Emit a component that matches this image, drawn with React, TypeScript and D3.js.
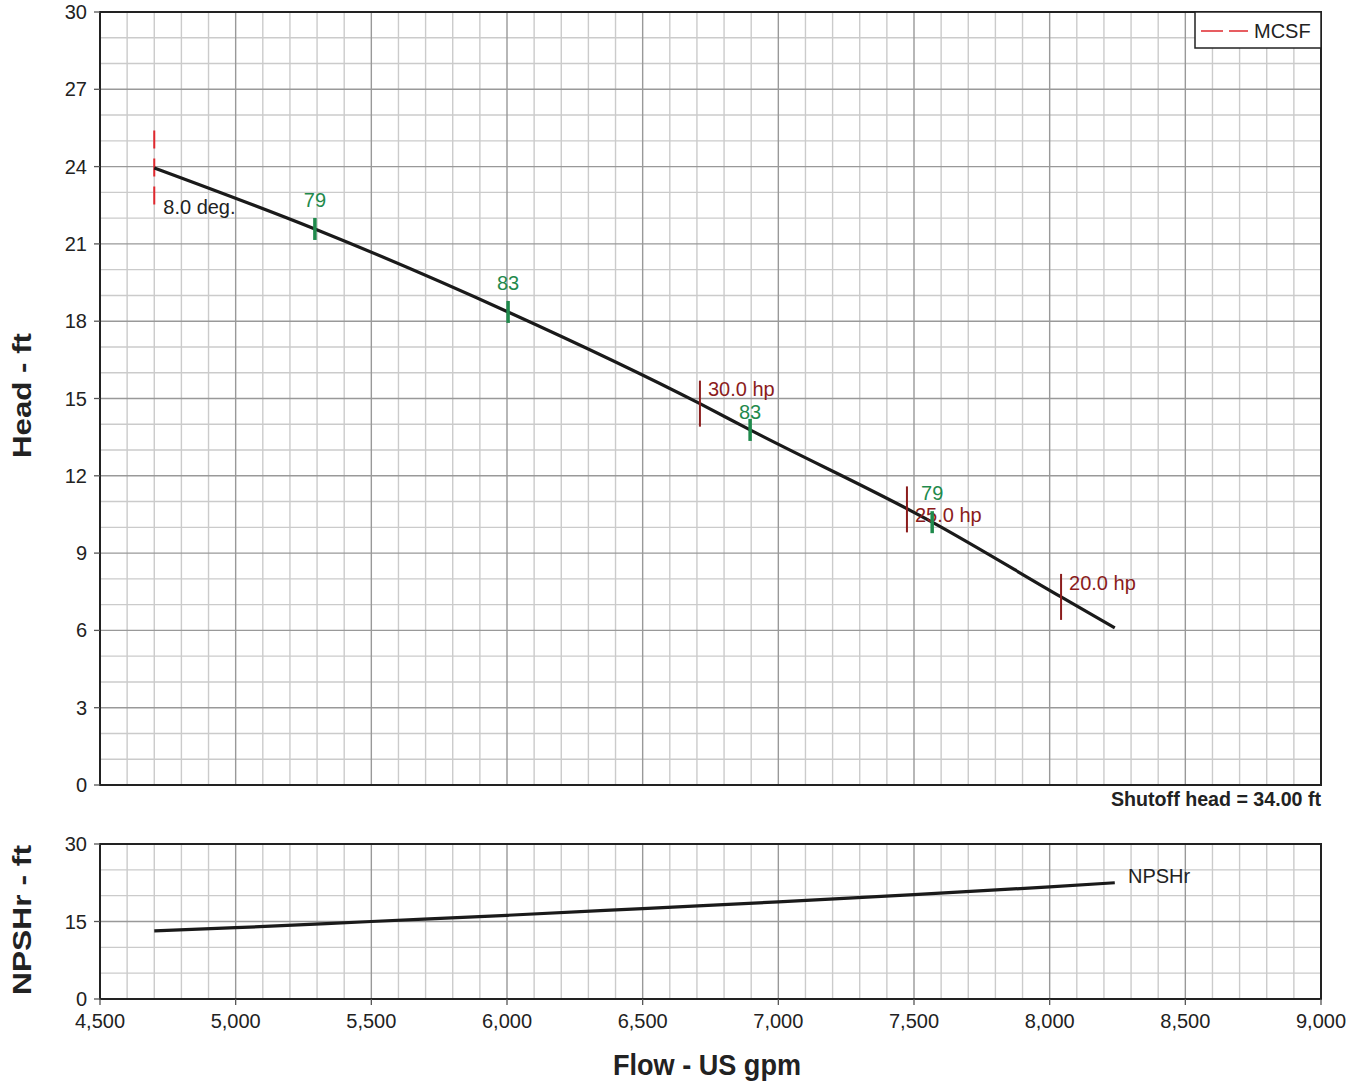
import React from "react";
import * as d3 from "d3";

const headFlow = [4700, 5292, 6004, 6711, 6896, 7567, 8042, 8240];
const headFt = [23.95, 21.58, 18.36, 14.8, 13.78, 10.2, 7.3, 6.1];

const npshFlow = [4700, 5000, 5500, 6000, 6500, 7000, 7500, 8000, 8240];
const npshFt = [13.2, 13.8, 15.0, 16.2, 17.5, 18.8, 20.2, 21.7, 22.5];

const effFlow = [5292, 6004, 6896, 7567];
const effLabels = ["79", "83", "83", "79"];
const effLabelLift = [22, 22, 11, 22];

const hpFlow = [6711, 7474, 8042];
const hpLabels = ["30.0 hp", "25.0 hp", "20.0 hp"];
const hpLabelShift = [-8, 13, -7];

const mcsfFlow = 4700;
const mcsfRange = [22.4, 25.4];
const bladeAngleLabel = "8.0 deg.";

const xTicks = [4500, 5000, 5500, 6000, 6500, 7000, 7500, 8000, 8500, 9000];
const headTicks = [0, 3, 6, 9, 12, 15, 18, 21, 24, 27, 30];
const npshTicks = [0, 15, 30];

const FONT = "'Liberation Sans', Arial, Helvetica, sans-serif";

export default function App() {
  const L = 100, R = 1321;
  const hT = 12, hB = 785;
  const nT = 844, nB = 999;
  const x = d3.scaleLinear().domain([4500, 9000]).range([L, R]);
  const yH = d3.scaleLinear().domain([0, 30]).range([hB, hT]);
  const yN = d3.scaleLinear().domain([0, 30]).range([nB, nT]);

  const minorX = d3.range(4500, 9001, 100);
  const headLine = d3.line<number>().x((_, i) => x(headFlow[i])).y((d) => yH(d)).curve(d3.curveMonotoneX);
  const npshLine = d3.line<number>().x((_, i) => x(npshFlow[i])).y((d) => yN(d)).curve(d3.curveMonotoneX);
  const headAt = d3.scaleLinear().domain(headFlow).range(headFt);

  const minorC = "#cbcbcb";
  const majorC = "#999999";
  const green = "#1f8a4c";
  const red = "#8b1c1c";

  const grid = (yS: d3.ScaleLinear<number, number>, top: number, bot: number, minorStep: number, majorStep: number) => {
    const ys = d3.range(0, 30.001, minorStep);
    return (
      <g>
        {minorX.filter((v) => v % 500 !== 0).map((v) => (
          <line key={"mx" + v} x1={x(v)} x2={x(v)} y1={top} y2={bot} stroke={minorC} strokeWidth={1.4} />
        ))}
        {ys.filter((v) => Math.abs(v % majorStep) > 1e-6).map((v) => (
          <line key={"my" + v} x1={L} x2={R} y1={yS(v)} y2={yS(v)} stroke={minorC} strokeWidth={1.4} />
        ))}
        {xTicks.map((v) => (
          <line key={"Mx" + v} x1={x(v)} x2={x(v)} y1={top} y2={bot} stroke={majorC} strokeWidth={1.4} />
        ))}
        {ys.filter((v) => Math.abs(v % majorStep) < 1e-6).map((v) => (
          <line key={"My" + v} x1={L} x2={R} y1={yS(v)} y2={yS(v)} stroke={majorC} strokeWidth={1.4} />
        ))}
        <rect x={L} y={top} width={R - L} height={bot - top} fill="none" stroke="#222" strokeWidth={2} />
      </g>
    );
  };

  return (
    <svg width={1359} height={1084} style={{ position: "absolute", left: 0, top: 0, background: "#fff" }} fontFamily={FONT}>
      <rect width={1359} height={1084} fill="#fff" />
      {grid(yH, hT, hB, 1, 3)}
      {grid(yN, nT, nB, 5, 15)}

      {headTicks.map((v) => (
        <g key={"ht" + v}>
          <line x1={L - 6} x2={L} y1={yH(v)} y2={yH(v)} stroke="#555" strokeWidth={1.3} />
          <text x={L - 13} y={yH(v) + 7} textAnchor="end" fontSize={20} fill="#222">{v}</text>
        </g>
      ))}
      {npshTicks.map((v) => (
        <g key={"nt" + v}>
          <line x1={L - 6} x2={L} y1={yN(v)} y2={yN(v)} stroke="#555" strokeWidth={1.3} />
          <text x={L - 13} y={yN(v) + 7} textAnchor="end" fontSize={20} fill="#222">{v}</text>
        </g>
      ))}
      {xTicks.map((v) => (
        <g key={"xt" + v}>
          <line x1={x(v)} x2={x(v)} y1={nB} y2={nB + 6} stroke="#555" strokeWidth={1.3} />
          <text x={x(v)} y={nB + 29} textAnchor="middle" fontSize={20} fill="#222">{d3.format(",")(v)}</text>
        </g>
      ))}

      {/* MCSF */}
      <line x1={x(mcsfFlow)} x2={x(mcsfFlow)} y1={yH(mcsfRange[1])} y2={yH(mcsfRange[0])} stroke="#e0282e" strokeWidth={2} strokeDasharray="18 10" />
      <text x={x(mcsfFlow) + 9} y={yH(headAt(mcsfFlow)) + 46} fontSize={20} fill="#222">{bladeAngleLabel}</text>

      {/* head curve */}
      <path d={headLine(headFt) || ""} fill="none" stroke="#1a1a1a" strokeWidth={3.2} />

      {/* hp markers */}
      {hpFlow.map((f, i) => {
        const cy = yH(headAt(f));
        return (
          <g key={"hp" + i}>
            <line x1={x(f)} x2={x(f)} y1={cy - 23} y2={cy + 23} stroke={red} strokeWidth={2} />
            <text x={x(f) + 8} y={cy + hpLabelShift[i]} fontSize={20} fill={red}>{hpLabels[i]}</text>
          </g>
        );
      })}

      {/* efficiency markers */}
      {effFlow.map((f, i) => {
        const cy = yH(headAt(f));
        return (
          <g key={"ef" + i}>
            <line x1={x(f)} x2={x(f)} y1={cy - 11} y2={cy + 11} stroke={green} strokeWidth={3.5} />
            <text x={x(f)} y={cy - effLabelLift[i]} textAnchor="middle" fontSize={20} fill={green}>{effLabels[i]}</text>
          </g>
        );
      })}

      {/* legend */}
      <rect x={1195} y={hT} width={R - 1195} height={36} fill="#fff" stroke="#222" strokeWidth={1.5} />
      <line x1={1201} x2={1248} y1={31} y2={31} stroke="#e0282e" strokeWidth={1.5} strokeDasharray="22 6" />
      <text x={1254} y={38} fontSize={20} fill="#222">MCSF</text>

      <text x={R} y={806} textAnchor="end" fontSize={19.5} fontWeight="bold" fill="#222" textLength={210} lengthAdjust="spacingAndGlyphs">Shutoff head = 34.00 ft</text>

      {/* NPSHr */}
      <path d={npshLine(npshFt) || ""} fill="none" stroke="#1a1a1a" strokeWidth={3.2} />
      <text x={1128} y={883} fontSize={20} fill="#222">NPSHr</text>

      {/* axis titles */}
      <text transform={`translate(31,${(333 + 458) / 2}) rotate(-90)`} textAnchor="middle" fontSize={25} fontWeight="bold" fill="#222" textLength={125} lengthAdjust="spacingAndGlyphs">Head - ft</text>
      <text transform={`translate(31,${(845 + 995) / 2}) rotate(-90)`} textAnchor="middle" fontSize={25} fontWeight="bold" fill="#222" textLength={150} lengthAdjust="spacingAndGlyphs">NPSHr - ft</text>
      <text x={707} y={1075} textAnchor="middle" fontSize={29} fontWeight="bold" fill="#222" textLength={188} lengthAdjust="spacingAndGlyphs">Flow - US gpm</text>
    </svg>
  );
}
